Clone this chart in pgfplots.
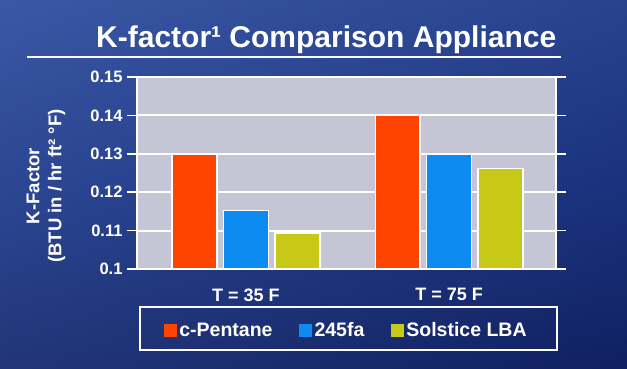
\documentclass[border=0pt]{standalone}
\usepackage{fontspec}
\setmainfont{Liberation Sans}
\usepackage{pgfplots}
\pgfplotsset{compat=1.18}
\definecolor{cpent}{RGB}{255,68,0}
\definecolor{hfa}{RGB}{12,140,240}
\definecolor{sol}{RGB}{200,200,22}
\definecolor{plotbg}{RGB}{197,197,214}
\definecolor{bgtop}{RGB}{52,82,160}
\definecolor{bgmid}{RGB}{30,56,134}
\definecolor{bgbot}{RGB}{14,28,90}
\definecolor{bgleft}{RGB}{70,100,175}
\definecolor{bgright}{RGB}{20,40,110}
\begin{document}
\begin{tikzpicture}
\useasboundingbox (0pt,0pt) rectangle (627pt,369pt);
\shade[top color=bgtop, bottom color=bgbot, middle color=bgmid] (0pt,0pt) rectangle (627pt,369pt);
\shade[left color=bgleft, right color=bgright, opacity=0.35] (0pt,0pt) rectangle (627pt,369pt);
\node[anchor=base west, text=white, font=\bfseries\fontsize{30}{34}\selectfont, inner sep=0pt] at (96pt,321pt) {K-factor¹ Comparison Appliance};
\draw[white, line width=2.5pt] (27pt,312pt) -- (561pt,312pt);
\node[rotate=90, align=center, text=white, font=\bfseries\fontsize{18.5}{22}\selectfont] at (46pt,183pt) {K-Factor\\(BTU in / hr ft² °F)};
\draw[white, line width=1.5pt] (140pt,19pt) rectangle (557pt,62pt);
\begin{axis}[
  at={(137pt,100pt)}, anchor=south west, scale only axis,
  width=419pt, height=192pt,
  xmin=-0.535, xmax=1.525, ymin=0.1, ymax=0.15,
  ytick={0.1,0.11,0.12,0.13,0.14,0.15},
  yticklabels={0.1,0.11,0.12,0.13,0.14,0.15},
  xtick={0,1}, xticklabels={T = 35 F, T = 75 F},
  ymajorgrids, grid style={white, line width=2pt},
  axis background/.style={fill=plotbg},
  axis line style={white, line width=1.5pt},
  ytick style={white, line width=1.5pt},
  xtick style={draw=none},
  tick align=outside, major tick length=10pt,
  yticklabel style={text=white, font=\bfseries\fontsize{16.5}{19}\selectfont, xshift=-1pt},
  xticklabel style={text=white, font=\bfseries\fontsize{18}{21}\selectfont, yshift=-6pt},
  legend columns=3,
  legend style={at={(0.5,-0.318)}, anchor=center, draw=none, fill=none, text=white,
    font=\bfseries\fontsize{19.5}{22}\selectfont, nodes={inner sep=2.5pt},
    /tikz/every even column/.append style={column sep=24pt}},
  legend image code/.code={\fill[#1, draw=none] (0pt,-6.5pt) rectangle (13pt,6.5pt);},
]
\addplot[ybar, bar width=0.221, bar shift=-0.253, fill=cpent, draw=white, line width=1.5pt] coordinates {(0,0.13) (1,0.14)};
\addlegendentry{c-Pentane}
\addplot[ybar, bar width=0.221, bar shift=0, fill=hfa, draw=white, line width=1.5pt] coordinates {(0,0.1152) (1,0.13)};
\addlegendentry{245fa}
\addplot[ybar, bar width=0.221, bar shift=0.253, fill=sol, draw=white, line width=1.5pt] coordinates {(0,0.1094) (1,0.1262)};
\addlegendentry{Solstice LBA}
\end{axis}
\end{tikzpicture}
\end{document}
